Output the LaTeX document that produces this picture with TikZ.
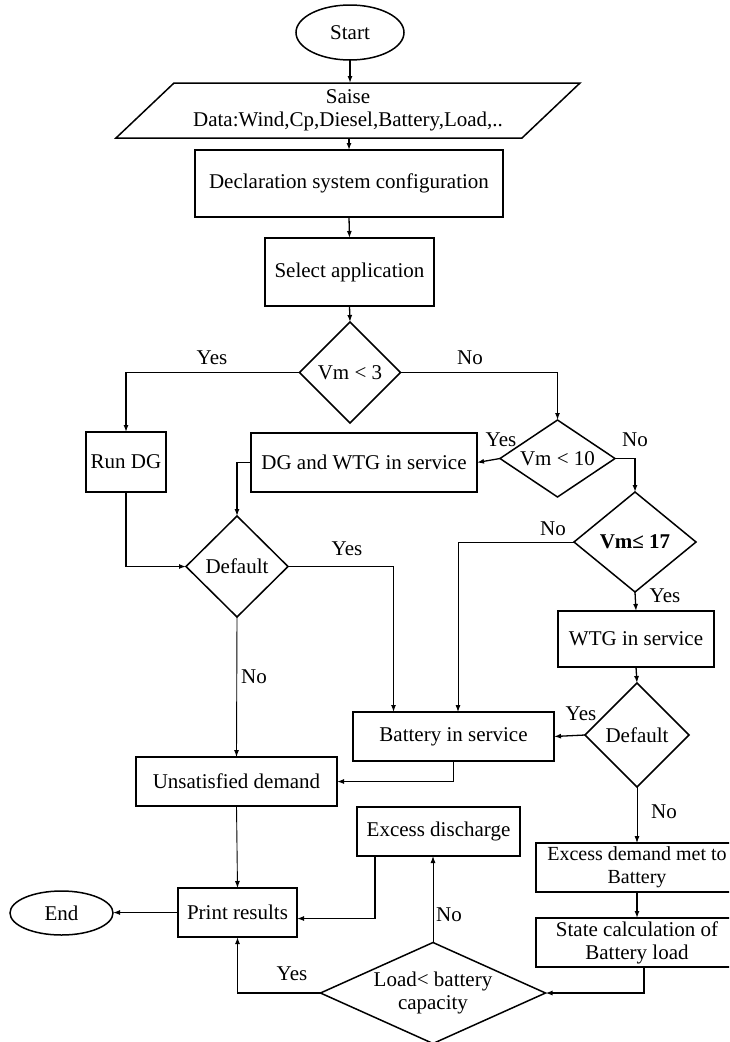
\documentclass[tikz,border=0pt]{standalone}
\usepackage{fontspec}
\setmainfont{Liberation Serif}
\usetikzlibrary{shapes.geometric,arrows.meta,calc}
\begin{document}
\begin{tikzpicture}[x=1pt,y=-1pt,
  every node/.style={font=\fontsize{21}{23}\selectfont,outer sep=0pt},
  box/.style={draw,line width=1.5pt,rectangle,inner sep=0pt,align=center},
  dec/.style={draw,line width=1.5pt,diamond,inner sep=0pt,align=center},
  term/.style={draw,line width=1.5pt,ellipse,inner sep=0pt},
  lab/.style={inner sep=0pt},
  conn/.style={line width=1.3pt,-{Latex[length=7pt,width=5pt]}},
  thinconn/.style={line width=0.9pt,-{Latex[length=7pt,width=5pt]}},
]
\useasboundingbox (0,0) rectangle (729,1042);
\clip (0,0) rectangle (729,1042);

% nodes
\node[term,minimum width=108pt,minimum height=55pt] (start) at (350,32.5) {Start};
\node[inner sep=0pt,minimum width=406pt,minimum height=55pt,align=center] (data) at (348,110.5) {Saise\\Data:Wind,Cp,Diesel,Battery,Load,..};
\draw[line width=1.5pt] ([xshift=29pt]data.north west) -- ([xshift=29pt]data.north east) -- ([xshift=-29pt]data.south east) -- ([xshift=-29pt]data.south west) -- cycle;
\node[box,minimum width=308pt,minimum height=67pt] (decl) at (349,183.5) {Declaration system configuration};
\node[box,minimum width=169pt,minimum height=68pt] (select) at (349.5,272) {Select application};
\node[dec,minimum width=101pt,minimum height=101pt] (d3) at (350,372.5) {Vm < 3};
\node[box,minimum width=80pt,minimum height=60pt] (rundg) at (126,462) {Run DG};
\node[dec,minimum width=115pt,minimum height=77pt,aspect=1.5] (d10) at (557.5,458.5) {Vm < 10};
\node[box,minimum width=226pt,minimum height=59pt] (dgwtg) at (364,462.5) {DG and WTG in service};
\node[dec,minimum width=102pt,minimum height=101pt] (def1) at (237,566.5) {Default};
\node[dec,minimum width=122pt,minimum height=100pt] (d17) at (635,542) {\textbf{Vm≤ 17}};
\node[box,minimum width=156pt,minimum height=56pt] (wtg) at (636,639) {WTG in service};
\node[dec,minimum width=104pt,minimum height=104pt] (def2) at (637,735) {Default};
\node[box,minimum width=201pt,minimum height=49pt] (batt) at (453.5,736.5) {Battery in service};
\node[box,minimum width=201pt,minimum height=49pt] (unsat) at (236.5,781.5) {Unsatisfied demand};
\node[box,minimum width=163pt,minimum height=49pt] (excdis) at (438.5,831.5) {Excess discharge};
\node[box,minimum width=202pt,minimum height=49pt,font=\fontsize{20}{23}\selectfont] (excdem) at (637,867.5) {Excess demand met to\\Battery};
\node[box,minimum width=202pt,minimum height=49pt] (state) at (637,942.5) {State calculation of\\Battery load};
\node[box,minimum width=119pt,minimum height=49pt] (print) at (237.5,912.5) {Print results};
\node[term,minimum width=103pt,minimum height=44pt] (endn) at (61.5,913) {End};
\node[dec,minimum width=225pt,minimum height=101pt,aspect=2.25] (dload) at (433,993) {Load< battery\\capacity};

% connectors
\draw[conn] (start.south) -- (start.south |- data.north);
\draw[conn] (decl.north |- data.south) -- (decl.north);
\draw[conn] (decl.south) -- (select.north);
\draw[conn] (select.south) -- (d3.north);
\draw[conn] (d3.west) -| (rundg.north);
\draw[conn] (d3.east) -| (d10.north);
\draw[conn] (d10.west) -- (dgwtg.east);
\draw[conn] (d10.east) -| (d17.north);
\draw[conn] (dgwtg.west) -| (def1.north);
\draw[conn] (rundg.south) |- (def1.west);
\draw[conn] (def1.east) -| ([xshift=-60pt]batt.north);
\draw[thinconn] (def1.south) -- (unsat.north);
\draw[thinconn] (d17.west) -| ([xshift=4.5pt]batt.north);
\draw[conn] (d17.south) -- (wtg.north);
\draw[conn] (wtg.south) -- (def2.north);
\draw[conn] (def2.west) -- (batt.east);
\draw[conn] (batt.south) |- (unsat.east);
\draw[thinconn] (def2.south) -- (excdem.north);
\draw[conn] (excdem.south) -- (state.north);
\draw[conn] ([xshift=7pt]state.south) |- (dload.east);
\draw[thinconn] (dload.north) -- (dload.north |- excdis.south);
\draw[conn] (dload.west) -| (print.south);
\draw[conn] ([xshift=-63.5pt]excdis.south) |- ([yshift=-6pt]print.east);
\draw[thinconn] (unsat.south) -- (print.north);
\draw[conn] (print.west) -- (print.west -| endn.east);

% labels
\node[lab] (l1) at (212,358) {Yes};
\node[lab] (l2) at (470,358) {No};
\node[lab] (l3) at (501,440) {Yes};
\node[lab] (l4) at (635,440) {No};
\node[lab] (l5) at (347,549) {Yes};
\node[lab] (l6) at (553,529) {No};
\node[lab] (l7) at (665,596) {Yes};
\node[lab] (l8) at (254,677) {No};
\node[lab] (l9) at (581,714) {Yes};
\node[lab] (l10) at (664,812) {No};
\node[lab] (l11) at (449,915) {No};
\node[lab] (l12) at (292,974) {Yes};
\end{tikzpicture}
\end{document}
